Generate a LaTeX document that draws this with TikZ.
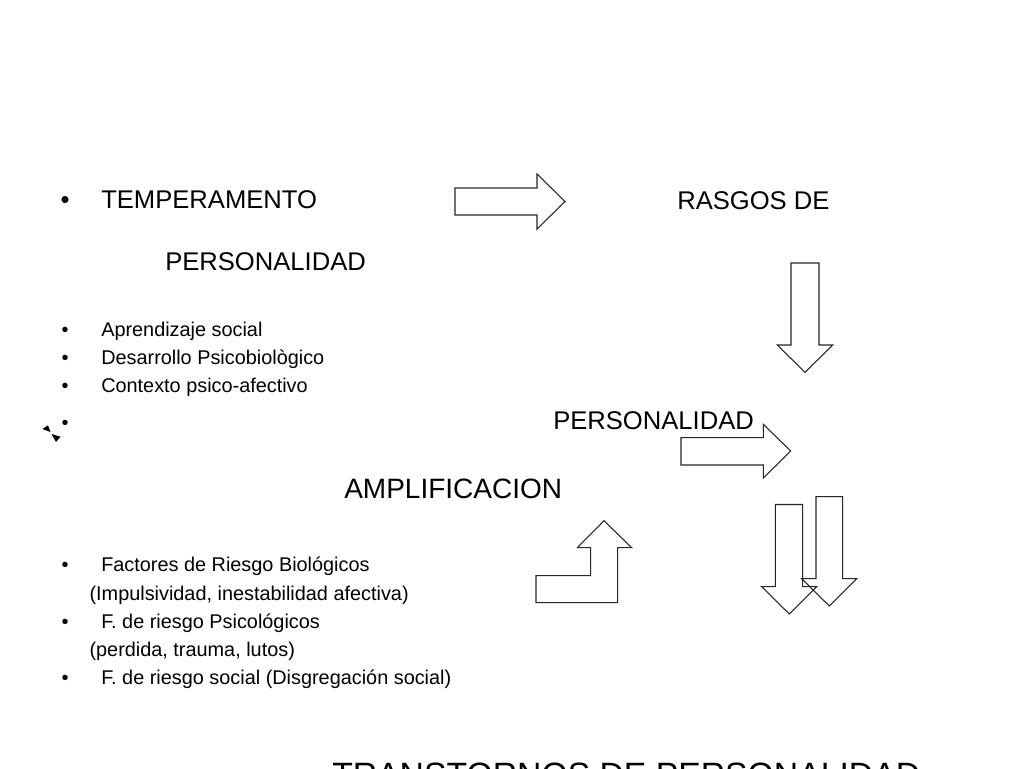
\documentclass[tikz,border=0pt]{standalone}
\usepackage{fontspec}
\setmainfont{Liberation Sans}
\begin{document}
\begin{tikzpicture}[x=0.75pt,y=-0.75pt,
  big/.style={font=\fontsize{19.2pt}{22pt}\selectfont,anchor=base west,inner sep=0pt},
  amp/.style={font=\fontsize{21pt}{24pt}\selectfont,anchor=base west,inner sep=0pt},
  huge/.style={font=\fontsize{25.3pt}{29pt}\selectfont,anchor=base west,inner sep=0pt},
  small/.style={font=\fontsize{14.9pt}{17pt}\selectfont,anchor=base west,inner sep=0pt},
  bulbig/.style={font=\fontsize{19.2pt}{22pt}\selectfont,anchor=base,inner sep=0pt},
  bulsmall/.style={font=\fontsize{14.9pt}{17pt}\selectfont,anchor=base,inner sep=0pt},
  blockarrow/.style={draw=black!85,line width=0.8pt,line join=miter}]
\useasboundingbox (0,0) rectangle (1024,768);
\clip (0,0) rectangle (1024,768);
\fill[white] (0,0) rectangle (1024,768);

% top line
\node[bulbig] (b1) at (65,208.5) {•};
\node[big] (temp) at (101,208.5) {TEMPERAMENTO};
\node[big] (rasgos) at (677,209) {RASGOS DE};
\node[big] (pers1) at (165,270.5) {PERSONALIDAD};

% small list
\node[bulsmall] (b2) at (65,336.7) {•};
\node[small] (apr) at (101,336.7) {Aprendizaje social};
\node[bulsmall] (b3) at (65,364.5) {•};
\node[small] (des) at (101,364.5) {Desarrollo Psicobiològico};
\node[bulsmall] (b4) at (65,392.3) {•};
\node[small] (con) at (101,392.3) {Contexto psico-afectivo};
\node[bulsmall] (b5) at (65,429.5) {•};
% odd glyph
\fill (42.5,429) -- (48,425.3) -- (50.5,432) -- cycle;
\fill (51.5,434) -- (60.5,436.7) -- (56,442) -- cycle;

\node[big] (pers2) at (553,429.3) {PERSONALIDAD};
\node[amp] (ampl) at (344,498.3) {AMPLIFICACION};

% lower list
\node[bulsmall] (c1) at (65,571.7) {•};
\node[small] (fac) at (101,571.7) {Factores de Riesgo Biológicos};
\node[small] (imp) at (89.3,600) {(Impulsividad, inestabilidad afectiva)};
\node[bulsmall] (c2) at (65,628.3) {•};
\node[small] (psi) at (101,628.3) {F. de riesgo Psicológicos};
\node[small] (per) at (89.3,656.7) {(perdida, trauma, lutos)};
\node[bulsmall] (c3) at (65,684.3) {•};
\node[small] (soc) at (101,684.3) {F. de riesgo social (Disgregación social)};

\node[huge] (trans) at (332,786) {TRANSTORNOS DE PERSONALIDAD};

% block arrows
% right arrow 1
\draw[blockarrow] (455,188) -- (537,188) -- (537,174) -- (565,201.5) -- (537,229) -- (537,215) -- (455,215) -- cycle;
% down arrow 1
\draw[blockarrow] (791,263) -- (819,263) -- (819,345) -- (832.7,345) -- (805,372.3) -- (777.3,345) -- (791,345) -- cycle;
% right arrow 2
\draw[blockarrow] (681,437.7) -- (763.3,437.7) -- (763.3,424.3) -- (790.7,451) -- (763.3,478) -- (763.3,465) -- (681,465) -- cycle;
% bent up arrow
\draw[blockarrow] (536,602.7) -- (617.7,602.7) -- (617.7,547.7) -- (631.7,547.7) -- (604,520.7) -- (577.3,547.7) -- (590.7,547.7) -- (590.7,575.7) -- (536,575.7) -- cycle;
% down arrows pair
\draw[blockarrow] (816,496.7) -- (842.7,496.7) -- (842.7,578.7) -- (856.7,578.7) -- (829.3,606) -- (801.7,578.7) -- (816,578.7) -- cycle;
\draw[blockarrow] (775.3,504.5) -- (802.7,504.5) -- (802.7,586.7) -- (816.7,586.7) -- (789.3,614) -- (761.7,586.7) -- (775.3,586.7) -- cycle;
\end{tikzpicture}
\end{document}
